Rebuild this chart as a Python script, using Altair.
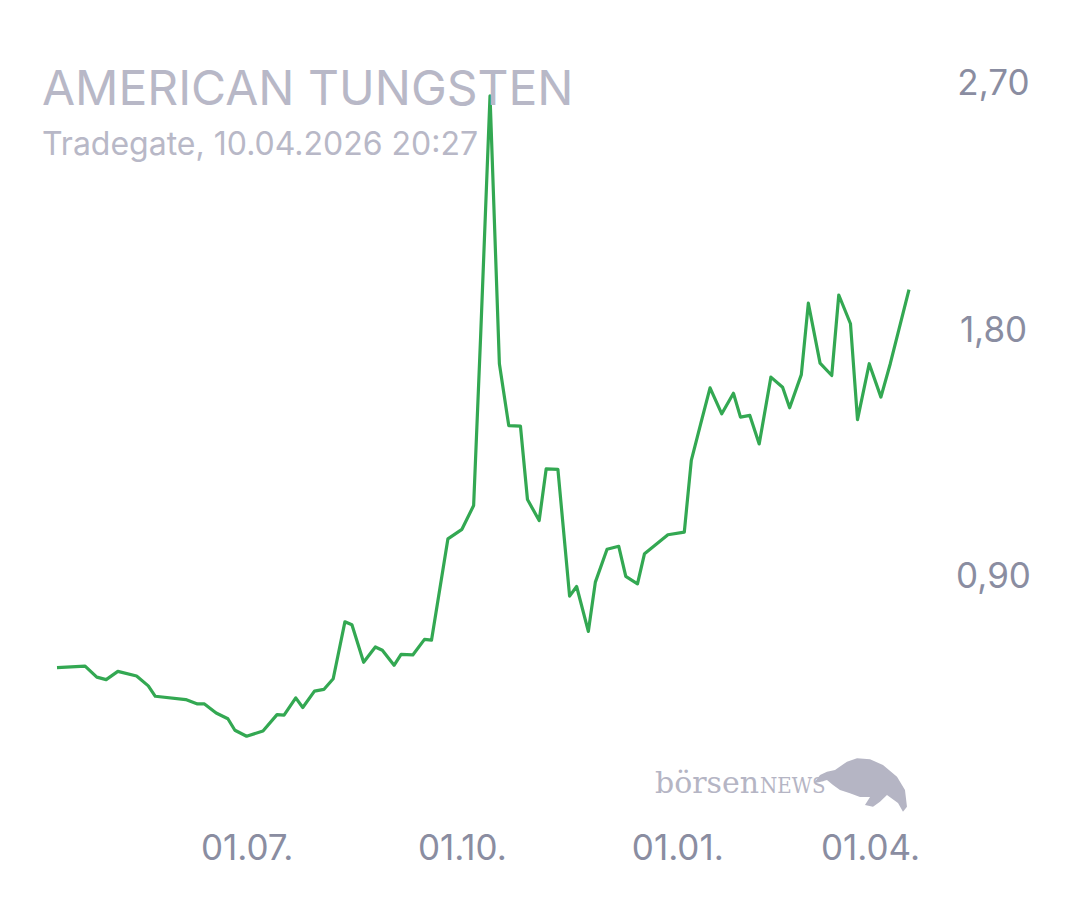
import altair as alt
import pandas as pd

# ---- data ----
dates = ["2025-04-11","2025-04-23","2025-04-28","2025-05-02","2025-05-07","2025-05-15","2025-05-20","2025-05-23",
         "2025-06-05","2025-06-10","2025-06-13","2025-06-18","2025-06-23","2025-06-26",
         "2025-07-01","2025-07-08","2025-07-14","2025-07-17","2025-07-22","2025-07-25","2025-07-30",
         "2025-08-03","2025-08-07","2025-08-12","2025-08-15","2025-08-20","2025-08-25","2025-08-28",
         "2025-09-02","2025-09-05","2025-09-10","2025-09-15","2025-09-18","2025-09-25",
         "2025-10-01","2025-10-06","2025-10-09","2025-10-13","2025-10-17","2025-10-21","2025-10-26","2025-10-29",
         "2025-11-03","2025-11-06","2025-11-11","2025-11-16","2025-11-19","2025-11-24","2025-11-27",
         "2025-12-02","2025-12-07","2025-12-10","2025-12-15","2025-12-18","2025-12-23","2025-12-28",
         "2026-01-04","2026-01-07","2026-01-11","2026-01-15","2026-01-20","2026-01-25","2026-01-28",
         "2026-02-01","2026-02-05","2026-02-10","2026-02-15","2026-02-18","2026-02-23","2026-02-26",
         "2026-03-03","2026-03-08","2026-03-11","2026-03-16","2026-03-19","2026-03-24","2026-03-29",
         "2026-04-02","2026-04-10"]

prices = [0.567,0.572,0.532,0.523,0.553,0.536,0.500,0.462,
          0.450,0.434,0.434,0.401,0.380,0.338,
          0.316,0.335,0.395,0.393,0.456,0.421,0.481,
          0.487,0.526,0.734,0.723,0.586,0.642,0.630,
          0.575,0.615,0.613,0.670,0.667,1.037,
          1.072,1.159,1.780,2.656,1.677,1.451,1.449,1.181,
          1.104,1.293,1.291,0.828,0.863,0.699,0.879,
          0.999,1.010,0.900,0.873,0.983,1.017,1.052,
          1.062,1.324,1.457,1.589,1.494,1.569,1.482,
          1.488,1.384,1.628,1.591,1.516,1.637,1.898,
          1.679,1.634,1.928,1.823,1.473,1.677,1.555,
          1.677,1.948]

y_ticks = [0.9, 1.8, 2.7]
x_ticks = [(2025, 7, 1), (2025, 10, 1), (2026, 1, 1), (2026, 4, 1)]

title_text = "AMERICAN TUNGSTEN"
subtitle_text = "Tradegate, 10.04.2026 20:27"

df = pd.DataFrame({"date": pd.to_datetime(dates), "price": prices})

LABEL_COLOR = "#8a8da1"
TITLE_COLOR = "#b8b8c7"
MARK_COLOR = "#b5b5c4"
FONT = "Inter"

x_enc = alt.X(
    "date:T",
    scale=alt.Scale(domain=[alt.DateTime(year=2025, month=4, date=11),
                            alt.DateTime(year=2026, month=4, date=10)]),
    axis=alt.Axis(
        values=[alt.DateTime(year=y, month=m, date=d) for (y, m, d) in x_ticks],
        format="%d.%m.",
        title=None,
        domain=False,
        ticks=False,
        grid=False,
        labelFont=FONT,
        labelFontSize=35,
        labelColor=LABEL_COLOR,
        labelBaseline="middle",
        labelPadding=80,
        labelFlush=False,
        labelOverlap=False,
        labelOffset={"condition": {"test": "month(datum.value) == 3", "value": -18}, "value": 0},
    ),
)

y_enc = alt.Y(
    "price:Q",
    scale=alt.Scale(domain=[0.2, 2.75], nice=False, zero=False),
    axis=alt.Axis(
        orient="right",
        values=y_ticks,
        labelExpr="replace(format(datum.value, '.2f'), '.', ',')",
        title=None,
        domain=False,
        ticks=False,
        grid=False,
        labelFont=FONT,
        labelFontSize=35,
        labelColor=LABEL_COLOR,
        labelAlign="center",
        labelBaseline="middle",
        labelPadding=84,
    ),
)

line = alt.Chart(df).mark_line(color="#33a852", strokeWidth=3.2, strokeJoin="round").encode(
    x=x_enc, y=y_enc
)

# watermark (decorative)
wm_df = pd.DataFrame({"a": ["börsen"], "b": ["NEWS"]})
wm1 = alt.Chart(wm_df).mark_text(font="DejaVu Serif", fontSize=30, color=MARK_COLOR,
                                 align="left", baseline="alphabetic").encode(
    x=alt.value(598), y=alt.value(723), text="a:N")
wm2 = alt.Chart(wm_df).mark_text(font="DejaVu Serif Condensed, Liberation Serif", fontSize=22,
                                 color=MARK_COLOR, align="left", baseline="alphabetic").encode(
    x=alt.value(703), y=alt.value(723), text="b:N")
bull_path = ("M-0.968,-0.063 L-0.842,-0.232 L-0.695,-0.301 L-0.526,-0.337 L-0.274,-0.512 "
             "L-0.063,-0.583 L0.211,-0.562 L0.484,-0.442 L0.779,-0.196 L0.947,0.084 "
             "L0.989,0.436 L0.905,0.541 L0.8,0.358 L0.568,0.189 L0.421,0.331 L0.274,0.436 "
             "L0.105,0.4 L0.211,0.232 L0,0.232 L-0.211,0.154 L-0.421,0.084 L-0.568,-0.021 "
             "L-0.695,-0.126 L-0.842,-0.084 Z")
bull = alt.Chart(wm_df).mark_point(shape=bull_path, filled=True, size=9025, color=MARK_COLOR,
                                   opacity=1, strokeWidth=0).encode(
    x=alt.value(803), y=alt.value(716))

chart = alt.layer(line, wm1, wm2, bull).properties(
    width=852,
    height=698,
    autosize=alt.AutoSizeParams(type="none"),
    padding={"left": 49, "top": 62, "right": 160, "bottom": 110},
    background="white",
    title=alt.TitleParams(
        text=title_text,
        subtitle=subtitle_text,
        anchor="start",
        frame="group",
        dx=-15,
        offset=-94,
        font=FONT,
        fontSize=48,
        fontWeight="normal",
        color=TITLE_COLOR,
        subtitleFont=FONT,
        subtitleFontSize=32,
        subtitleColor=TITLE_COLOR,
        subtitlePadding=15,
    ),
).configure_view(stroke=None)

chart.save("out.html", embed_options={"renderer": "svg", "actions": False})
